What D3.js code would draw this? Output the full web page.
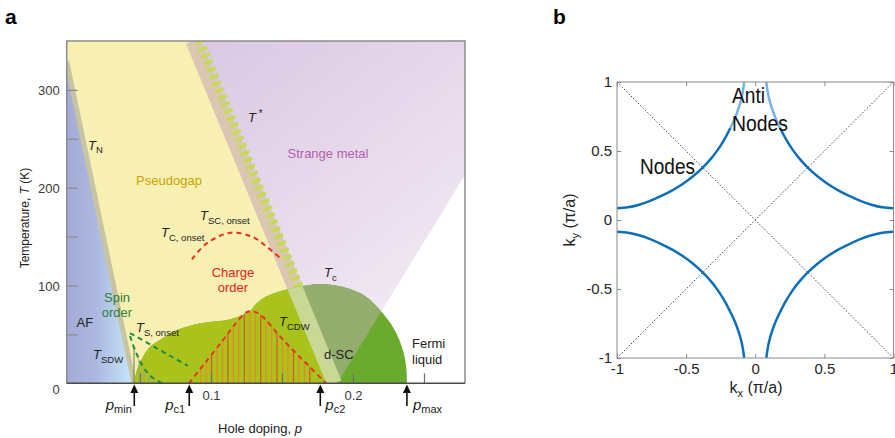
<!DOCTYPE html>
<html><head><meta charset="utf-8">
<script src="https://cdn.jsdelivr.net/npm/d3@7"></script>
<style>
body{margin:0;background:#fff;}
svg{display:block;font-family:"Liberation Sans",Arial,Helvetica,sans-serif;}
</style></head><body>
<svg id="c" width="895" height="438"></svg>
<script>
// ---------- Panel a data ----------
const yLabelTicks = [0, 100, 200, 300];
const yMinorTicks = [50, 100, 150, 200, 250, 300];
const xLabelTicks = [0.1, 0.2];
const xMinorTicks = [0.05, 0.1, 0.15, 0.2, 0.25];
const tnLine = [[-0.0016, 329], [0.0458, 0]];
const tStarLine = [[0.0873, 350], [0.187, 0]];
const strangeEdge = [[0.2789, 213], [0.189, 0]];
const domeP = [0.0458,0.0479,0.0521,0.057,0.0641,0.0746,0.0873,0.0993,0.1113,0.1204,0.1275,0.1317,0.1359,0.1451,0.1577,0.1697,0.1768,0.1859,0.1979,0.2085,0.219,0.2268,0.2324,0.2359,0.2377,0.238];
const domeT = [0,13.6,26.9,37.1,44.3,53.5,59.6,62.7,64.7,68.8,73.9,81.1,86.2,92.3,97.4,100.5,101.5,100.5,96.4,89.3,75,60.6,45.3,30,13.6,0];
const cdwP = [0.0845,0.0958,0.1085,0.1155,0.1254,0.131,0.1366,0.1465,0.1577,0.1683,0.181];
const cdwT = [0,20.8,44.3,57.6,72.9,73,67.8,51.4,34,18.7,0];
const cOnsetP = [0.0866,0.097,0.1141,0.1298,0.1392,0.1486];
const cOnsetT = [126.8,143.1,154,149.3,139.7,128.4];
const sOnsetLine = [[0.043, 51.4], [0.0838, 17.7]];
const sdwP = [0.043,0.0465,0.05,0.0542,0.0592,0.0662];
const sdwT = [48.4,34,22.8,12.6,5.4,0];
const cdwBarsP = [0.0927,0.0966,0.1004,0.1043,0.1081,0.1119,0.1158,0.1196,0.1235,0.1273,0.1312,0.135,0.1388,0.1427,0.1465,0.1504,0.1542,0.1581,0.1619,0.1658,0.1696];
const spinBarsP = [0.0458,0.0493,0.0528,0.0563,0.0599,0.0634];
const pMarks = [0.046, 0.0847, 0.177, 0.238];
const pMarkSubs = ["min", "c1", "c2", "max"];

// ---------- Panel b data ----------
const kTicks = [-1, -0.5, 0, 0.5, 1];
const fsKx = [0.08,0.09,0.10,0.12,0.15,0.18,0.22,0.27,0.32,0.38,0.45,0.52,0.60,0.68,0.76,0.84,0.92,1.00];
const fsKy = [1.00,0.93,0.88,0.81,0.73,0.667,0.59,0.51,0.445,0.38,0.317,0.265,0.215,0.174,0.138,0.111,0.092,0.085];
const antiNodeCount = 6; // first points of each upper arc drawn light
const diag1 = [[-1,-1],[1,1]];
const diag2 = [[-1,1],[1,-1]];

// ---------- setup ----------
const svg = d3.select('#c');
const defs = svg.append('defs');
const xA = d3.scaleLinear().domain([-0.0016, 0.2789]).range([66.7, 465]);
const yA = d3.scaleLinear().domain([0, 350]).range([383.3, 41]);
const P = d => [xA(d[0]), yA(d[1])];
const poly = arr => 'M' + arr.map(d => P(d).join(',')).join('L') + 'Z';
const zip = (a, b) => a.map((v, i) => [v, b[i]]);
const lineA = d3.line().x(d => xA(d[0])).y(d => yA(d[1]));
const curveA = d3.line().x(d => xA(d[0])).y(d => yA(d[1])).curve(d3.curveCatmullRom.alpha(0.5));

defs.append('clipPath').attr('id', 'clipA').append('rect')
  .attr('x', 66.7).attr('y', 41).attr('width', 465 - 66.7).attr('height', 383.3 - 41);

const purpleGrad = defs.append('linearGradient').attr('id', 'purpleG')
  .attr('gradientUnits', 'userSpaceOnUse').attr('x1', 200).attr('y1', 41).attr('x2', 430).attr('y2', 330);
purpleGrad.append('stop').attr('offset', 0).attr('stop-color', '#dac8e3');
purpleGrad.append('stop').attr('offset', 1).attr('stop-color', '#f4ebf4');
const afGrad = defs.append('linearGradient').attr('id', 'afG')
  .attr('gradientUnits', 'userSpaceOnUse').attr('x1', 66).attr('y1', 0).attr('x2', 134).attr('y2', 0);
afGrad.append('stop').attr('offset', 0).attr('stop-color', '#a5aad7');
afGrad.append('stop').attr('offset', 0.45).attr('stop-color', '#acb8e0');
afGrad.append('stop').attr('offset', 1).attr('stop-color', '#c6eafa');

const tsTop = tStarLine[0], tsBot = tStarLine[1];
const yellowPoly = [[-0.0016, 350], tsTop, tsBot, tnLine[1], tnLine[0]];
const purplePoly = [tsTop, [0.2789, 350], strangeEdge[0], strangeEdge[1], tsBot];
const afPoly = [tnLine[0], tnLine[1], [-0.0016, 0]];
const domeData = zip(domeP, domeT);
const domePath = curveA(domeData) + 'Z';

defs.append('clipPath').attr('id', 'clipDome').append('path').attr('d', domePath);
defs.append('clipPath').attr('id', 'clipCdw').append('path').attr('d', curveA(zip(cdwP, cdwT)) + 'Z');
defs.append('clipPath').attr('id', 'clipSdw').append('path')
  .attr('d', curveA(zip(sdwP, sdwT)) + 'L' + xA(sdwP[0]) + ',' + yA(0) + 'Z');

const gA = svg.append('g').attr('clip-path', 'url(#clipA)');
gA.append('path').attr('d', poly(purplePoly)).attr('fill', 'url(#purpleG)');
gA.append('path').attr('d', poly(yellowPoly)).attr('fill', '#f8f0b2');
gA.append('path').attr('d', poly(afPoly)).attr('fill', 'url(#afG)');
gA.append('path').attr('d', lineA(tnLine)).attr('stroke', '#c8c4a3').attr('stroke-width', 5).attr('fill', 'none');
gA.append('path').attr('d', lineA(tStarLine)).attr('stroke', '#dbc5b3').attr('stroke-width', 15).attr('fill', 'none');
gA.append('path')
  .attr('d', `M${xA(tsTop[0]) + 3.5},${yA(tsTop[1]) - 8}L${xA(tsBot[0]) + 3.5},${yA(tsBot[1])}`)
  .attr('stroke', '#c6da5a').attr('stroke-width', 9.5).attr('stroke-dasharray', '3.8 3.7').attr('fill', 'none');

// dome layers
const gD = gA.append('g').attr('clip-path', 'url(#clipDome)');
gD.append('rect').attr('x', 60).attr('y', 40).attr('width', 420).attr('height', 350).attr('fill', '#6aaa2c');
gD.append('path').attr('d', poly(yellowPoly)).attr('fill', '#a9c31c');
gD.append('path').attr('d', poly(purplePoly)).attr('fill', '#93ad6d');
gD.append('path').attr('d', lineA(tStarLine)).attr('stroke', '#c9d894').attr('stroke-width', 15).attr('fill', 'none');

// hatching
gA.append('g').attr('clip-path', 'url(#clipSdw)').selectAll('line').data(spinBarsP).join('line')
  .attr('x1', d => xA(d)).attr('x2', d => xA(d)).attr('y1', yA(0)).attr('y2', yA(80))
  .attr('stroke', (d, i) => i === 0 ? '#6f8c4c' : '#98a57a').attr('stroke-width', 1.1);
gA.append('g').attr('clip-path', 'url(#clipCdw)').selectAll('line').data(cdwBarsP).join('line')
  .attr('x1', d => xA(d)).attr('x2', d => xA(d)).attr('y1', yA(0)).attr('y2', yA(120))
  .attr('stroke', (d, i) => i % 3 === 2 ? '#e4502a' : '#f0842a').attr('stroke-width', 1.2);

// dashed curves
gA.append('path').attr('d', curveA(zip(cdwP, cdwT))).attr('fill', 'none')
  .attr('stroke', '#e8321f').attr('stroke-width', 2).attr('stroke-dasharray', '5 4');
gA.append('path').attr('d', curveA(zip(cOnsetP, cOnsetT))).attr('fill', 'none')
  .attr('stroke', '#e8321f').attr('stroke-width', 2).attr('stroke-dasharray', '5 4');
gA.append('path').attr('d', lineA(sOnsetLine)).attr('fill', 'none')
  .attr('stroke', '#1f8a3e').attr('stroke-width', 2).attr('stroke-dasharray', '5 4');
gA.append('path').attr('d', curveA(zip(sdwP, sdwT))).attr('fill', 'none')
  .attr('stroke', '#1f8a3e').attr('stroke-width', 2).attr('stroke-dasharray', '5 4');

// axes panel a
const axL = svg.append('g').attr('transform', 'translate(66.7,0)')
  .call(d3.axisLeft(yA).tickValues(yMinorTicks).tickSize(-11).tickFormat(''));
axL.select('.domain').remove();
axL.selectAll('line').attr('stroke', '#8a8a8a').attr('stroke-width', 1.2);
const axL2 = svg.append('g').attr('transform', 'translate(66.7,0)')
  .call(d3.axisLeft(yA).tickValues(yLabelTicks).tickSize(0).tickPadding(7).tickFormat(d3.format('d')));
axL2.select('.domain').remove();
axL2.selectAll('text').attr('font-size', 13).attr('fill', '#3a3a3a').attr('font-family', '"Liberation Sans",Arial,sans-serif')
  .attr('dy', d => d === 0 ? '0.75em' : '0.35em');
const axB = svg.append('g').attr('transform', 'translate(0,383.3)')
  .call(d3.axisBottom(xA).tickValues(xMinorTicks).tickSize(-10).tickFormat(''));
axB.select('.domain').remove();
axB.selectAll('line').attr('stroke', '#6e6e6e').attr('stroke-width', 1.2);
const axB2 = svg.append('g').attr('transform', 'translate(0,383.3)')
  .call(d3.axisBottom(xA).tickValues(xLabelTicks).tickSize(0).tickPadding(7.5).tickFormat(d3.format('.1f')));
axB2.select('.domain').remove();
axB2.selectAll('text').attr('font-size', 13).attr('fill', '#3a3a3a').attr('font-family', '"Liberation Sans",Arial,sans-serif');

// frame
svg.append('path').attr('d', 'M66.7,383.3V41H465V383.3').attr('fill', 'none').attr('stroke', '#8c8c8c').attr('stroke-width', 1.5);
svg.append('line').attr('x1', 66.7).attr('x2', 465).attr('y1', 383.3).attr('y2', 383.3).attr('stroke', '#4a4a4a').attr('stroke-width', 1.5);

// arrows
const arrows = svg.append('g');
pMarks.forEach((p, i) => {
  const x = xA(p);
  arrows.append('line').attr('x1', x).attr('x2', x).attr('y1', 406).attr('y2', 391).attr('stroke', '#111').attr('stroke-width', 1.6);
  arrows.append('path').attr('d', `M${x},384.5L${x - 4},393L${x + 4},393Z`).attr('fill', '#111');
  const left = i < 2;
  const t = arrows.append('text').attr('x', left ? x - (i === 0 ? 2.5 : 4) : x + (i === 2 ? 5 : 6)).attr('y', 410)
    .attr('text-anchor', left ? 'end' : 'start').attr('fill', '#222');
  t.append('tspan').attr('font-size', 15).attr('font-style', 'italic').text('p');
  t.append('tspan').attr('font-size', 11).attr('dy', 3).text(pMarkSubs[i]);
});

// labels
function label(x, y, parts, opts = {}) {
  const t = svg.append('text').attr('x', x).attr('y', y).attr('fill', opts.fill || '#222')
    .attr('text-anchor', opts.anchor || 'start');
  let cur = 0;
  parts.forEach(p => {
    const s = t.append('tspan').text(p.t).attr('font-size', p.size || 13);
    if (p.it) s.attr('font-style', 'italic');
    const dy = (p.dy || 0) - cur;
    if (dy) s.attr('dy', dy);
    cur = p.dy || 0;
  });
  return t;
}
const sub = 9.5;
label(88, 149.5, [{t: 'T', it: 1}, {t: 'N', size: sub, dy: 3.5}]);
label(169, 185, [{t: 'Pseudogap'}], {anchor: 'middle', fill: '#c9a400'});
label(248, 122, [{t: 'T', it: 1}, {t: ' *', size: 10, dy: -5}]);
label(328, 158, [{t: 'Strange metal'}], {anchor: 'middle', fill: '#b45fac'});
label(200, 220, [{t: 'T', it: 1}, {t: 'SC, onset', size: sub, dy: 4}]);
label(161, 237, [{t: 'T', it: 1}, {t: 'C, onset', size: sub, dy: 4}]);
label(233, 277, [{t: 'Charge'}], {anchor: 'middle', fill: '#e0231c'});
label(233, 292, [{t: 'order'}], {anchor: 'middle', fill: '#e0231c'});
label(324, 277, [{t: 'T', it: 1}, {t: 'c', size: sub, dy: 3.5}]);
label(117, 302, [{t: 'Spin'}], {anchor: 'middle', fill: '#2a7e3a'});
label(117, 317, [{t: 'order'}], {anchor: 'middle', fill: '#2a7e3a'});
label(76.5, 327, [{t: 'AF'}]);
label(136, 332, [{t: 'T', it: 1}, {t: 'S, onset', size: sub, dy: 4}]);
label(93, 359, [{t: 'T', it: 1}, {t: 'SDW', size: sub, dy: 4}]);
label(279, 326, [{t: 'T', it: 1}, {t: 'CDW', size: sub, dy: 4}]);
label(324, 359, [{t: 'd-SC'}]);
label(412, 348, [{t: 'Fermi'}]);
label(412, 364, [{t: 'liquid'}]);

// axis titles a
const yt = svg.append('text').attr('transform', 'translate(29,218) rotate(-90)').attr('text-anchor', 'middle')
  .attr('font-size', 12).attr('fill', '#222');
yt.append('tspan').text('Temperature, ');
yt.append('tspan').attr('font-style', 'italic').text('T');
yt.append('tspan').text(' (K)');
const xt = svg.append('text').attr('x', 260).attr('y', 433).attr('text-anchor', 'middle').attr('font-size', 13).attr('fill', '#222');
xt.append('tspan').text('Hole doping, ');
xt.append('tspan').attr('font-style', 'italic').text('p');

// panel letters
svg.append('text').attr('x', 5).attr('y', 24).attr('font-size', 21).attr('font-weight', 'bold').text('a');
svg.append('text').attr('x', 553).attr('y', 24).attr('font-size', 21).attr('font-weight', 'bold').text('b');

// ---------- Panel b ----------
const xB = d3.scaleLinear().domain([-1, 1]).range([617, 893.5]);
const yB = d3.scaleLinear().domain([-1, 1]).range([358, 82]);
const lineB = d3.line().x(d => xB(d[0])).y(d => yB(d[1])).curve(d3.curveCatmullRom.alpha(0.5));
const gB = svg.append('g');
defs.append('clipPath').attr('id', 'clipB').append('rect').attr('x', 617).attr('y', 82).attr('width', 276.5).attr('height', 276);

[diag1, diag2].forEach(dg => {
  gB.append('path').attr('d', d3.line().x(d => xB(d[0])).y(d => yB(d[1]))(dg))
    .attr('stroke', '#111').attr('stroke-width', 0.8).attr('stroke-dasharray', '1.5 1.8').attr('fill', 'none');
});

const fs = zip(fsKx, fsKy);
const quads = [[1, 1], [-1, 1], [-1, -1], [1, -1]];
const gF = gB.append('g').attr('clip-path', 'url(#clipB)');
quads.forEach(([sx, sy]) => {
  const pts = fs.map(d => [sx * d[0], sy * d[1]]);
  if (sy > 0) {
    gF.append('path').attr('d', lineB(pts.slice(antiNodeCount - 1))).attr('fill', 'none')
      .attr('stroke', '#0b6fb9').attr('stroke-width', 2.5);
    gF.append('path').attr('d', lineB(pts.slice(0, antiNodeCount))).attr('fill', 'none')
      .attr('stroke', '#74b4e2').attr('stroke-width', 2.5);
  } else {
    gF.append('path').attr('d', lineB(pts)).attr('fill', 'none')
      .attr('stroke', '#0b6fb9').attr('stroke-width', 2.5);
  }
});

// axes b (inner ticks on all sides)
const tickCol = '#8a8a8a';
const addAx = (axis, tr) => {
  const a = gB.append('g').attr('transform', tr).call(axis);
  a.select('.domain').remove();
  a.selectAll('line').attr('stroke', tickCol);
  return a;
};
addAx(d3.axisBottom(xB).tickValues(kTicks).tickSize(-4).tickFormat(''), 'translate(0,358)');
addAx(d3.axisTop(xB).tickValues(kTicks).tickSize(-4).tickFormat(''), 'translate(0,82)');
addAx(d3.axisLeft(yB).tickValues(kTicks).tickSize(-4).tickFormat(''), 'translate(617,0)');
addAx(d3.axisRight(yB).tickValues(kTicks).tickSize(-4).tickFormat(''), 'translate(893.5,0)');
const bx = addAx(d3.axisBottom(xB).tickValues(kTicks).tickSize(0).tickPadding(5).tickFormat(d => String(d)), 'translate(0,358)');
bx.selectAll('text').attr('font-size', 15).attr('fill', '#262626').attr('font-family', '"Liberation Sans",Arial,sans-serif');
const by = addAx(d3.axisLeft(yB).tickValues(kTicks).tickSize(0).tickPadding(5).tickFormat(d => String(d)), 'translate(617,0)');
by.selectAll('text').attr('font-size', 15).attr('fill', '#262626').attr('font-family', '"Liberation Sans",Arial,sans-serif');
gB.append('rect').attr('x', 617).attr('y', 82).attr('width', 276.5).attr('height', 276)
  .attr('fill', 'none').attr('stroke', tickCol).attr('stroke-width', 1);

// labels b
const bl = (x, y, s, len) => gB.append('text').attr('x', x).attr('y', y).attr('font-size', 22).attr('fill', '#111')
  .attr('textLength', len).attr('lengthAdjust', 'spacingAndGlyphs').text(s);
bl(732, 103, 'Anti', 33);
bl(732, 131, 'Nodes', 56);
bl(640, 174, 'Nodes', 55);

const kx = gB.append('text').attr('x', 756).attr('y', 393).attr('text-anchor', 'middle').attr('font-size', 16).attr('fill', '#262626');
kx.append('tspan').text('k');
kx.append('tspan').attr('font-size', 11).attr('dy', 4).text('x');
kx.append('tspan').attr('dy', -4).text(' (π/a)');
const ky = gB.append('text').attr('transform', 'translate(575,220) rotate(-90)').attr('text-anchor', 'middle').attr('font-size', 16).attr('fill', '#262626');
ky.append('tspan').text('k');
ky.append('tspan').attr('font-size', 11).attr('dy', 4).text('y');
ky.append('tspan').attr('dy', -4).text(' (π/a)');
</script>
</body></html>
